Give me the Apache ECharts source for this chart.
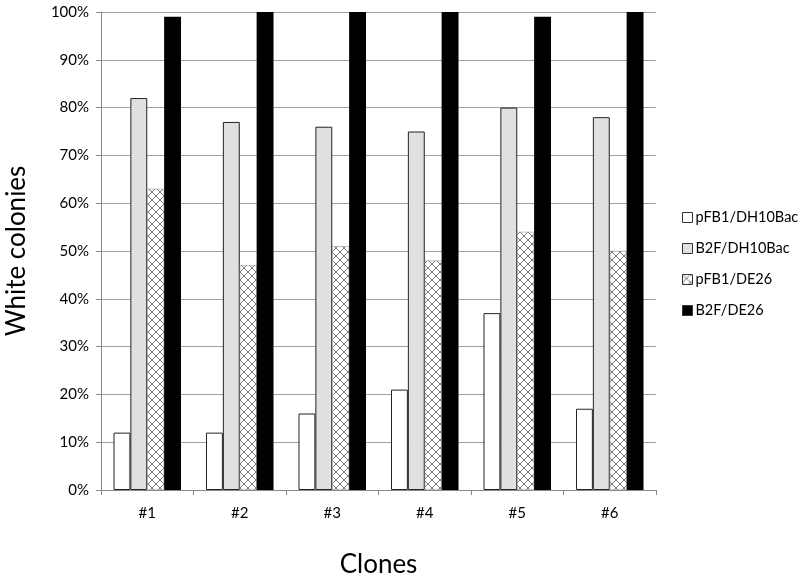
<!DOCTYPE html>
<html><head><meta charset="utf-8">
<script src="https://cdn.jsdelivr.net/npm/echarts@6/dist/echarts.min.js"></script>
<style>html,body{margin:0;padding:0;background:#fff}#c{width:800px;height:583px}</style>
</head><body><div id="c"></div>
<script>
const categories = ['#1','#2','#3','#4','#5','#6'];
const seriesNames = ['pFB1/DH10Bac','B2F/DH10Bac','pFB1/DE26','B2F/DE26'];
const pFB1_DH10Bac = [12,12,16,21,37,17];
const B2F_DH10Bac = [82,77,76,75,80,78];
const pFB1_DE26 = [63,47,51,48,54,50];
const B2F_DE26 = [99,100,100,100,99,100];
const yTicks = [0,10,20,30,40,50,60,70,80,90,100];

function hatch(){
  const c = document.createElement('canvas');
  c.width = 8; c.height = 8;
  const g = c.getContext('2d');
  g.fillStyle = '#fff'; g.fillRect(0,0,8,8);
  g.strokeStyle = '#7a7a7a'; g.lineWidth = 1;
  g.beginPath();
  g.moveTo(0,0); g.lineTo(8,8);
  g.moveTo(8,0); g.lineTo(0,8);
  g.stroke();
  return {image: c, repeat: 'repeat'};
}
const hatchFill = hatch();
const font = 'Lato, "Open Sans", sans-serif';
const chart = echarts.init(document.getElementById('c'));
const styles = [
  {color:'#ffffff', borderColor:'#222', borderWidth:1},
  {color:'#e0e0e0', borderColor:'#222', borderWidth:1},
  {color:hatchFill, borderColor:'#888', borderWidth:0.5},
  {color:'#000000', borderColor:'#000', borderWidth:0}
];
const data = [pFB1_DH10Bac, B2F_DH10Bac, pFB1_DE26, B2F_DE26];
chart.setOption({
  animation:false,
  backgroundColor:'#fff',
  grid:{left:101, right:144, top:12, bottom:93, containLabel:false, outerBoundsMode:'none'},
  legend:{
    orient:'vertical', left:677, top:205, itemGap:16, itemWidth:10, itemHeight:10,
    icon:'rect',
    textStyle:{fontFamily:font, fontSize:14.5, color:'#000', padding:[0,0,0,-2]},
    data:seriesNames.map((n,i)=>({name:n, itemStyle:{color: i===2? hatchFill : styles[i].color, borderColor:'#333', borderWidth:1}}))
  },
  xAxis:{
    type:'category', data:categories,
    name:'Clones', nameLocation:'middle', nameGap:62,
    nameTextStyle:{fontFamily:font, fontSize:26, color:'#000'},
    axisLine:{lineStyle:{color:'#8a8a8a', width:1}},
    axisTick:{show:true, length:5, lineStyle:{color:'#8a8a8a'}},
    axisLabel:{fontFamily:font, fontSize:15, color:'#000', margin:16}
  },
  yAxis:{
    type:'value', min:0, max:100, interval:10,
    name:'White colonies', nameLocation:'middle', nameGap:71,
    nameTextStyle:{fontFamily:font, fontSize:26, color:'#000'},
    axisLine:{show:true, lineStyle:{color:'#8a8a8a', width:1}},
    axisTick:{show:true, length:5, lineStyle:{color:'#8a8a8a'}},
    axisLabel:{fontFamily:font, fontSize:15, color:'#000', margin:12, formatter:v=>v+'%'},
    splitLine:{lineStyle:{color:'#a0a0a0', width:1}}
  },
  series: seriesNames.map((n,i)=>({
    name:n, type:'bar', data:data[i], barGap:'0%', barCategoryGap:'27%',
    itemStyle:styles[i]
  }))
});
</script></body></html>
